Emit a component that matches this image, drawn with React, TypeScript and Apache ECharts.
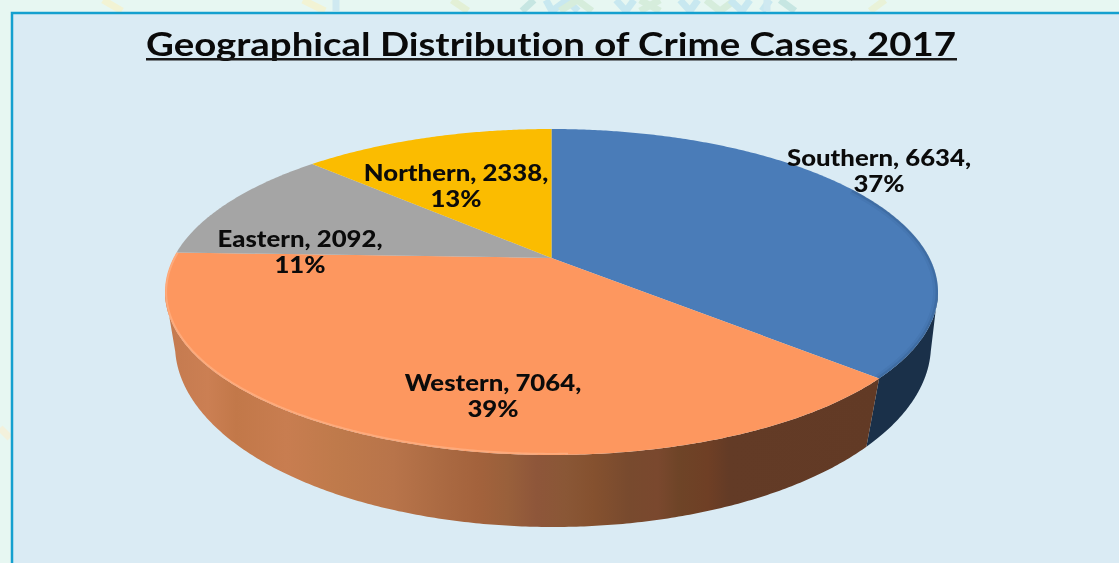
import React, { useEffect, useRef } from "react";
import * as echarts from "echarts";

const titleText = "Geographical Distribution of Crime Cases, 2017";
const categories = ["Southern", "Western", "Eastern", "Northern"];
const caseCounts = [6634, 7064, 2092, 2338];
const percentLabels = ["37%", "39%", "11%", "13%"];
const topColors = ["#4a7cb8", "#fd975f", "#a5a5a5", "#fbbc00"];

// label centres, by category order
const labelCentres = [[879, 170], [493, 395], [300, 251.5], [456, 185]];

// geometry of the tilted disc
const TOP = { cx: 551.5, cy: 292, rx: 386.5, ry: 163 };
const BOTTOM = { cx: 553, cy: 345, rx: 378, ry: 182 };
const TILT = -0.209; // where the disc's centre lands on the top ellipse
const TILT_BOTTOM = -0.17;

const FONT = "Lato, 'Open Sans', sans-serif";

function project(theta: number, tilt = TILT) {
  const u = Math.sin(theta);
  const v = -Math.cos(theta);
  const d = 1 + tilt * v;
  return { u: (u * Math.sqrt(1 - tilt * tilt)) / d, v: (v + tilt) / d };
}
function onEllipse(e: typeof TOP, p: { u: number; v: number }, inset = 0) {
  return [e.cx + (e.rx - inset) * p.u, e.cy + (e.ry - inset) * p.v];
}

const wallFill: any[] = [
  "#1a3049",
  {
    type: "linear", x: 0, y: 0, x2: 1, y2: 0,
    colorStops: [
      [0, "#c47a4f"], [0.06, "#cb7f53"], [0.1, "#c27849"], [0.17, "#c87d50"],
      [0.24, "#bf7a4b"], [0.32, "#b8744a"], [0.38, "#ac6b43"], [0.44, "#a3623c"],
      [0.48, "#99603b"], [0.52, "#8e563a"], [0.56, "#8a5736"], [0.6, "#85512f"],
      [0.65, "#784a2e"], [0.69, "#7a482e"], [0.72, "#6e4427"], [0.76, "#6f3f25"],
      [0.79, "#633b26"], [1, "#623a25"],
    ].map(([offset, color]) => ({ offset, color })),
  },
];

const stripes: [string, number[][]][] = [
  ["#f2f3d4", [[103, 0], [122, 11]]],
  ["#f2f3d4", [[303, 0], [325, 11]]],
  ["#cfe9f1", [[336, 0], [336, 11]]],
  ["#e3f0d6", [[452, 0], [468, 11]]],
  ["#c6e6e2", [[522, 11], [534, 0]]],
  ["#c8e8f0", [[546, 0], [552, 11], [567, 0], [578, 11]]],
  ["#d6eddc", [[560, 11], [577, 0], [592, 11]]],
  ["#c8e8f0", [[616, 0], [626, 11], [634, 0]]],
  ["#d6eddc", [[640, 0], [660, 11]]],
  ["#d6eddc", [[660, 0], [640, 11]]],
  ["#c8e8f0", [[680, 0], [690, 11], [698, 0]]],
  ["#d6eddc", [[706, 0], [720, 11], [735, 0]]],
  ["#c8e8f0", [[730, 0], [742, 11], [750, 0]]],
  ["#c8e8f0", [[762, 11], [770, 0]]],
  ["#c6e6e2", [[780, 0], [795, 11]]],
  ["#cfe9f1", [[767, 0], [767, 11]]],
  ["#e9f2d8", [[870, 11], [885, 0]]],
  ["#f3f1dc", [[0, 428], [10, 438]]],
];

export default function App() {
  const ref = useRef<HTMLDivElement>(null);
  useEffect(() => {
    document.body.style.margin = "0";
    document.body.style.background = "#e7f7f2";
    const chart = echarts.init(ref.current!, null, { renderer: "svg" });
    const total = caseCounts.reduce((a, b) => a + b, 0);

    const renderItem = (params: any, api: any) => {
      const i = params.dataIndex;
      const before = caseCounts.slice(0, i).reduce((a, b) => a + b, 0);
      const start = (before / total) * 2 * Math.PI;
      const end = ((before + api.value(0)) / total) * 2 * Math.PI;
      const steps = Math.ceil(((end - start) * 180) / Math.PI) * 2;
      const thetas = Array.from({ length: steps + 1 }, (_, k) => start + ((end - start) * k) / steps);
      const arc = thetas.map((t) => project(t));
      const apex = [TOP.cx, TOP.cy + TOP.ry * TILT];
      const children: any[] = [];

      const front = thetas.filter((t) => project(t).v >= -0.005);
      if (front.length > 1 && wallFill[i]) {
        const pts = [
          ...front.map((t) => onEllipse(TOP, project(t))),
          ...front.slice().reverse().map((t) => onEllipse(BOTTOM, project(t, TILT_BOTTOM))),
        ];
        children.push({
          type: "polygon",
          shape: { points: pts },
          style: { fill: wallFill[i], stroke: null },
          z2: 1,
        });
      }
      children.push({
        type: "polygon",
        shape: { points: [apex, ...arc.map((p) => onEllipse(TOP, p))] },
        style: { fill: topColors[i], stroke: null },
        z2: 2,
      });
      // soft bevel along the rim of the two large slices
      if (i === 0) {
        const rim = arc.filter((p) => p.u > 0.78);
        [[5, 0.07], [2.5, 0.16]].forEach(([w, op]) =>
          children.push({
            type: "polyline",
            shape: { points: rim.map((p) => onEllipse(TOP, p, w / 2)) },
            style: { stroke: "#1f3c60", lineWidth: w, opacity: op, fill: null },
            z2: 3,
          })
        );
      }
      if (i === 1) {
        const rim = arc.filter((p) => p.u < 0.05);
        children.push({
          type: "polyline",
          shape: { points: rim.map((p) => onEllipse(TOP, p, 1.2)) },
          style: { stroke: "#ffc9a4", lineWidth: 1.8, opacity: 0.4, fill: null },
          z2: 3,
        });
      }
      children.push({
        type: "text",
        z2: 10,
        x: labelCentres[i][0],
        y: labelCentres[i][1],
        scaleX: 1.17,
        style: {
          text: `${categories[i]}, ${api.value(0)},\n${percentLabels[i]}`,
          x: 0,
          y: 0,
          align: "center",
          verticalAlign: "middle",
          lineHeight: 26,
          fill: "#0b0b0b",
          font: `900 22px ${FONT}`,
        },
      });
      return { type: "group", children };
    };

    chart.setOption({
      animation: false,
      backgroundColor: "#e7f7f2",
      graphic: [
        ...stripes.map(([stroke, points]) => ({
          type: "polyline", z: -2, silent: true,
          shape: { points },
          style: { stroke, lineWidth: 7, fill: null },
        })),
        {
          type: "rect", z: -1, silent: true,
          shape: { x: 12, y: 13, width: 1130, height: 580 },
          style: { fill: "#daebf4", stroke: "#14a0cf", lineWidth: 2.5 },
        },
        {
          type: "text", z: 5, silent: true,
          x: 146, y: 43.5, scaleX: 1.2,
          style: {
            text: titleText, x: 0, y: 0,
            align: "left", verticalAlign: "middle",
            fill: "#0a0a0a", font: `700 32px ${FONT}`,
          },
        },
        {
          type: "rect", z: 5, silent: true,
          shape: { x: 146, y: 58, width: 811, height: 2.6 },
          style: { fill: "#1a1a1a" },
        },
      ],
      series: [
        {
          type: "custom",
          coordinateSystem: "none",
          renderItem,
          data: categories.map((name, i) => ({ name, value: [caseCounts[i]] })),
        },
      ],
    });
    return () => chart.dispose();
  }, []);
  return (
    <>
      <style>{`svg text { font-variant-ligatures: none !important; font-feature-settings: "liga" 0 !important; }`}</style>
      <div
        ref={ref}
        style={{ position: "absolute", left: 0, top: 0, width: 1119, height: 563, overflow: "hidden", filter: "blur(0.45px)" }}
      />
    </>
  );
}
